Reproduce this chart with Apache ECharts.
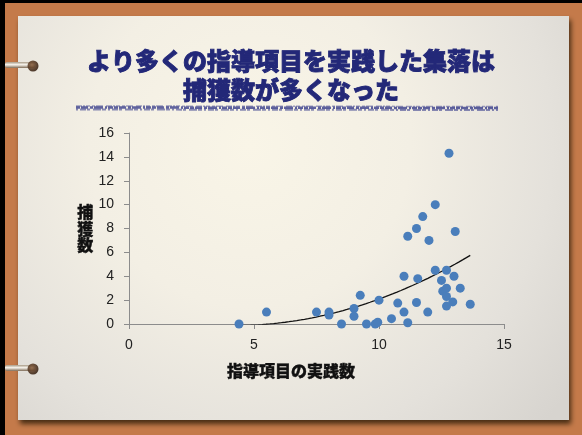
<!DOCTYPE html>
<html><head><meta charset="utf-8">
<script src="https://cdn.jsdelivr.net/npm/echarts@6/dist/echarts.min.js"></script>
<style>html,body{margin:0;padding:0;background:#c47a4a;}#c{width:582px;height:435px;}</style>
</head><body><div id="c"></div>
<script>
// ---- data ----
const titleLines = ['より多くの指導項目を実践した集落は', '捕獲数が多くなった'];
const xAxisName = '指導項目の実践数';
const yAxisName = '捕獲数';
const xTicks = [0, 5, 10, 15];
const yTicks = [0, 2, 4, 6, 8, 10, 12, 14, 16];
const practiceCount = [4.4, 5.5, 7.5, 8.0, 8.0, 8.5, 9.0, 9.0, 9.25, 9.5, 9.85, 9.95, 10.0, 10.5, 10.75,
  11.0, 11.0, 11.15, 11.15, 11.5, 11.55, 11.5, 11.75, 11.95, 12.0, 12.25, 12.25, 12.5, 12.55,
  12.7, 12.7, 12.7, 12.7, 12.8, 12.95, 13.0, 13.05, 13.25, 13.65];
const captureCount = [0, 1.0, 1.0, 1.0, 0.75, 0, 1.3, 0.65, 2.4, 0, 0, 0.15, 2.0, 0.45, 1.75,
  4.0, 1.0, 7.35, 0.1, 8.0, 3.8, 1.8, 9.0, 1.0, 7.0, 10.0, 4.5, 3.65, 2.75,
  4.5, 3.0, 2.3, 1.5, 14.3, 1.85, 4.0, 7.75, 3.0, 1.65];

// ---- quadratic least-squares trendline (as the spreadsheet did) ----
function polyFit2(xs, ys) {
  let S = [0,0,0,0,0], T = [0,0,0];
  for (let i = 0; i < xs.length; i++) {
    let p = 1;
    for (let k = 0; k < 5; k++) { S[k] += p; if (k < 3) T[k] += p * ys[i]; p *= xs[i]; }
  }
  const A = [[S[0],S[1],S[2],T[0]],[S[1],S[2],S[3],T[1]],[S[2],S[3],S[4],T[2]]];
  for (let c = 0; c < 3; c++) {
    for (let r = c + 1; r < 3; r++) {
      const f = A[r][c] / A[c][c];
      for (let k = c; k < 4; k++) A[r][k] -= f * A[c][k];
    }
  }
  const b = [0,0,0];
  for (let r = 2; r >= 0; r--) {
    let s = A[r][3];
    for (let k = r + 1; k < 3; k++) s -= A[r][k] * b[k];
    b[r] = s / A[r][r];
  }
  return b;
}
const coef = polyFit2(practiceCount, captureCount);
const xMin = Math.min(...practiceCount), xMax = Math.max(...practiceCount);
const trend = [];
for (let i = 0; i <= 60; i++) {
  const x = xMin + (xMax - xMin) * i / 60;
  trend.push([x, coef[0] + coef[1] * x + coef[2] * x * x]);
}
const points = practiceCount.map((x, i) => [x, captureCount[i]]);

const chart = echarts.init(document.getElementById('c'), null, {renderer: 'canvas'});
const tickFont = 'Liberation Sans, Arial, sans-serif';
const jpFont = '"Noto Sans CJK JP", sans-serif';

// decorative squiggle under the title
const squiggles = [];
const dashSets = [[4,1,7,2,3,1,9,2,2,1,5,1], [2,2,6,1,3,3,8,1,4,2], [6,1,2,1,4,2,3,1,7,3]];
[[107.5,0.75,2.5],[109.5,0.55,2],[106,0.45,1.5]].forEach((s, i) => {
  squiggles.push({
    type: 'line', silent: true,
    shape: {x1: 76, y1: s[0], x2: 498, y2: s[0] + 0.5},
    style: {stroke: '#2e3386', lineWidth: s[2], opacity: s[1], lineDash: dashSets[i]}
  });
});
const ringFill = {type: 'linear', x: 0, y: 0, x2: 0, y2: 1, colorStops: [{offset: 0, color: '#a89a86'}, {offset: 0.45, color: '#f8f5ee'}, {offset: 1, color: '#7d6a55'}]};
const knobFill = {type: 'radial', x: 0.4, y: 0.4, r: 0.6, colorStops: [{offset: 0, color: '#8a6140'}, {offset: 1, color: '#3a2416'}]};
const titleStyle = {font: '900 24px ' + jpFont, fill: '#232878', stroke: '#232878', lineWidth: 0.9};

const option = {
  backgroundColor: '#c47a4a',
  animation: false,
  graphic: [
    {type: 'rect', z: -10, shape: {x: 0, y: 0, width: 5, height: 435}, style: {fill: '#000'}},
    {type: 'rect', z: -10, shape: {x: 0, y: 0, width: 582, height: 3}, style: {fill: '#000'}},
    {type: 'rect', z: -9, silent: true,
      shape: {x: 18, y: 16, width: 551, height: 404},
      style: {
        fill: {type: 'radial', x: 0.42, y: 0.32, r: 1.0,
          colorStops: [{offset: 0, color: '#f9f5e7'}, {offset: 0.4, color: '#f3efe4'}, {offset: 0.75, color: '#e4e1db'}, {offset: 1, color: '#d7d4cf'}]},
        shadowColor: 'rgba(40,25,5,0.8)', shadowBlur: 5, shadowOffsetX: 2, shadowOffsetY: 4
      }},
    // rings
    {type: 'rect', z: -8, shape: {x: 5, y: 62, width: 30, height: 6, r: 2}, style: {fill: ringFill}},
    {type: 'circle', z: -7, shape: {cx: 33, cy: 66, r: 5.5}, style: {fill: knobFill, opacity: 0.9}},
    {type: 'rect', z: -8, shape: {x: 5, y: 365, width: 30, height: 6, r: 2}, style: {fill: ringFill}},
    {type: 'circle', z: -7, shape: {cx: 33, cy: 369, r: 5.5}, style: {fill: knobFill, opacity: 0.9}},
    ...squiggles,
    {type: 'text', left: 'center', top: 48, style: Object.assign({text: titleLines[0]}, titleStyle)},
    {type: 'text', left: 'center', top: 77, style: Object.assign({text: titleLines[1]}, titleStyle)},
    {type: 'text', left: 77, top: 204,
      style: {text: yAxisName.split('').join('\n'), font: '900 16px ' + jpFont, fill: '#111', stroke: '#111', lineWidth: 0.4, lineHeight: 16.5, align: 'left'}},
    {type: 'text', left: 'center', top: 363,
      style: {text: xAxisName, font: '900 16px ' + jpFont, fill: '#111', stroke: '#111', lineWidth: 0.4}}
  ],
  grid: {left: 129, right: 78, top: 133, bottom: 111, containLabel: false},
  xAxis: {
    type: 'value', min: xTicks[0], max: xTicks[xTicks.length - 1], interval: 5,
    axisLine: {show: true, lineStyle: {color: '#8c8c8c', width: 1}},
    axisTick: {show: true, inside: false, length: 5, lineStyle: {color: '#8c8c8c'}},
    splitLine: {show: false},
    axisLabel: {fontSize: 14, color: '#222', fontFamily: tickFont, margin: 14}
  },
  yAxis: {
    type: 'value', min: yTicks[0], max: yTicks[yTicks.length - 1], interval: 2,
    axisLine: {show: true, lineStyle: {color: '#8c8c8c', width: 1}},
    axisTick: {show: true, inside: false, length: 5, lineStyle: {color: '#8c8c8c'}},
    splitLine: {show: false},
    axisLabel: {fontSize: 14, color: '#222', fontFamily: tickFont, margin: 15}
  },
  series: [
    {type: 'line', data: trend, showSymbol: false, smooth: false, z: 2,
      lineStyle: {color: '#111', width: 1.3}},
    {type: 'scatter', data: points, symbolSize: 9, z: 3,
      itemStyle: {color: '#4a7ebb', opacity: 1}}
  ]
};
chart.setOption(option);
</script>
</body></html>
